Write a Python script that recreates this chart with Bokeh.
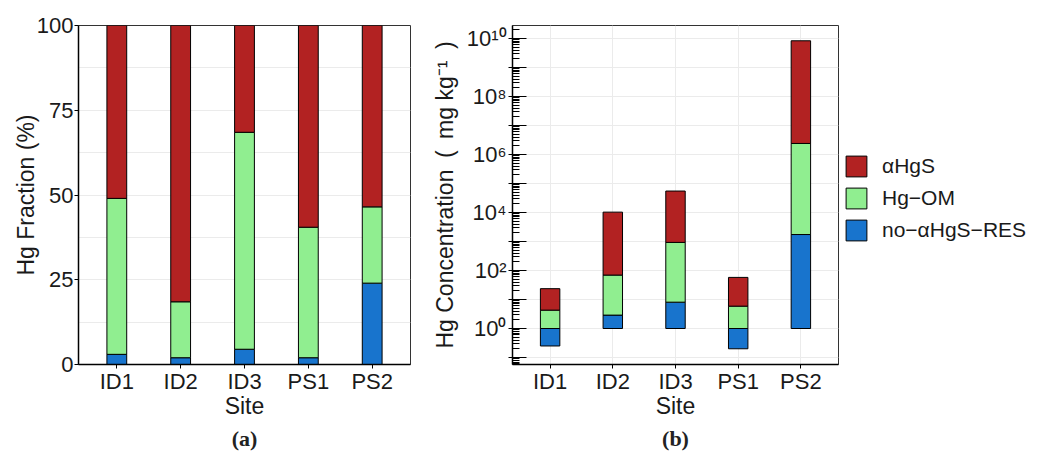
import math
from bokeh.plotting import figure
from bokeh.models import (ColumnDataSource, Range1d, FixedTicker, Legend, LegendItem,
                          Title, CustomJSTickFormatter)
from bokeh.layouts import row
from bokeh.embed import file_html
from bokeh.resources import INLINE

# ---------------- data ----------------
sites = ["ID1", "ID2", "ID3", "PS1", "PS2"]
series = ["no\u2212\u03b1HgS\u2212RES", "Hg\u2212OM", "\u03b1HgS"]

# panel (a): fraction (%)
frac_res = [3.0, 2.0, 4.5, 2.0, 24.0]
frac_om = [46.0, 16.5, 64.0, 38.5, 22.5]
frac_hgs = [51.0, 81.5, 31.5, 59.5, 53.5]

# panel (b): concentration (mg kg-1), stacked on a log axis
conc_res = [0.25, 2.9, 8.1, 0.20, 1740.0]
conc_om = [4.3, 24.0, 115.0, 5.9, 1380.0]
conc_hgs = [5.5, 148.0, 59.0, 9.8, 3470.0]

# ---------------- style ----------------
C_RES, C_OM, C_HGS = "#1874CD", "#90EE90", "#B22222"
colors = [C_RES, C_OM, C_HGS]
FONT = "Liberation Sans"
TXT = "#1a1a1a"
GRID = "#ebebeb"
BAR_W = 0.31
xs = [1, 2, 3, 4, 5]
x_over = {i + 1: s for i, s in enumerate(sites)}


def style(p):
    p.background_fill_color = "white"
    p.border_fill_color = "white"
    p.outline_line_color = "#333333"
    p.outline_line_width = 1
    for ax in (p.xaxis[0], p.yaxis[0]):
        ax.axis_line_color = "black"
        ax.axis_line_width = 1.5
        ax.major_tick_line_color = "black"
        ax.minor_tick_line_color = "black"
        ax.major_label_text_font = FONT
        ax.major_label_text_font_size = "22px"
        ax.major_label_text_color = TXT
        ax.axis_label_text_font = FONT
        ax.axis_label_text_font_size = "23px"
        ax.axis_label_text_font_style = "normal"
        ax.axis_label_text_color = TXT
    p.xaxis.ticker = FixedTicker(ticks=xs)
    p.xaxis.major_label_overrides = x_over
    p.xaxis.major_tick_out = 4
    p.xaxis.major_tick_in = 0
    p.xaxis.minor_tick_line_color = None
    p.xaxis.major_label_standoff = 0
    p.xaxis.axis_label = "Site"
    p.xaxis.axis_label_standoff = -4


# ---------------- panel (a) ----------------
p1 = figure(frame_width=332, frame_height=339,
            x_range=Range1d(0.4, 5.6), y_range=Range1d(0, 100),
            output_backend="svg", toolbar_location=None,
            min_border_left=78, min_border_top=25, min_border_right=10,
            min_border_bottom=10)
style(p1)

b = [0.0] * 5
for vals, col in zip([frac_res, frac_om, frac_hgs], colors):
    t = [bb + v for bb, v in zip(b, vals)]
    src = ColumnDataSource(dict(x=xs, bottom=b, top=t))
    p1.vbar(x="x", bottom="bottom", top="top", width=BAR_W, source=src,
            fill_color=col, line_color="black", line_width=1)
    b = t

yt1 = FixedTicker(ticks=[0, 25, 50, 75, 100], minor_ticks=[12.5, 37.5, 62.5, 87.5])
p1.yaxis.ticker = yt1
p1.ygrid.ticker = yt1
p1.ygrid.grid_line_color = GRID
p1.ygrid.minor_grid_line_color = GRID
p1.xgrid.grid_line_color = None
p1.yaxis.major_tick_out = 4
p1.yaxis.major_tick_in = 0
p1.yaxis.minor_tick_line_color = None
p1.yaxis.major_label_standoff = 1
p1.yaxis.axis_label = "Hg Fraction (%)"
p1.yaxis.axis_label_standoff = -5
p1.add_layout(Title(text="(a)", align="center", text_font="Liberation Serif",
                    text_font_style="bold", text_font_size="22px",
                    text_color="#222222", standoff=5), "below")

# ---------------- panel (b) ----------------
p2 = figure(frame_width=326, frame_height=339,
            x_range=Range1d(0.4, 5.6), y_range=Range1d(10 ** -1.241, 10 ** 10.448),
            y_axis_type="log",
            output_backend="svg", toolbar_location=None,
            min_border_left=92, min_border_top=25, min_border_right=10,
            min_border_bottom=10)
style(p2)

pos = [0.0] * 5
neg = [0.0] * 5
renderers = []
for vals, col in zip([conc_res, conc_om, conc_hgs], colors):
    bot, top = [], []
    for i, v in enumerate(vals):
        l = math.log10(v)
        if l >= 0:
            bot.append(10 ** pos[i]); top.append(10 ** (pos[i] + l)); pos[i] += l
        else:
            top.append(10 ** neg[i]); bot.append(10 ** (neg[i] + l)); neg[i] += l
    src = ColumnDataSource(dict(x=xs, bottom=bot, top=top))
    r = p2.vbar(x="x", bottom="bottom", top="top", width=BAR_W, source=src,
                fill_color=col, line_color="black", line_width=1)
    renderers.append(r)

yt2 = FixedTicker(ticks=[10.0 ** k for k in range(-1, 11)],
                  minor_ticks=[m * 10.0 ** k for k in range(-2, 11) for m in range(2, 10)])
p2.yaxis.ticker = yt2
p2.ygrid.ticker = yt2
p2.xgrid.ticker = FixedTicker(ticks=xs)
p2.ygrid.grid_line_color = GRID
p2.xgrid.grid_line_color = GRID
p2.yaxis.formatter = CustomJSTickFormatter(code="""
const e = Math.round(Math.log10(tick));
if (e % 2 !== 0) { return ""; }
const sup = {"0":"\u2070","1":"\u00b9","2":"\u00b2","3":"\u00b3","4":"\u2074","5":"\u2075","6":"\u2076","7":"\u2077","8":"\u2078","9":"\u2079","-":"\u207b"};
return "10" + String(e).split("").map(c => sup[c]).join("");
""")
p2.yaxis.major_tick_out = 4
p2.yaxis.major_tick_in = 14
p2.yaxis.minor_tick_in = 7
p2.yaxis.minor_tick_out = 0
p2.yaxis.major_label_standoff = 2
p2.yaxis.axis_label = "Hg Concentration\u2002(\u2002mg kg\u207b\u00b9\u2002)"
p2.yaxis.axis_label_standoff = 6
p2.add_layout(Title(text="(b)", align="center", text_font="Liberation Serif",
                    text_font_style="bold", text_font_size="22px",
                    text_color="#222222", standoff=5), "below")

legend = Legend(items=[LegendItem(label=series[2], renderers=[renderers[2]]),
                       LegendItem(label=series[1], renderers=[renderers[1]]),
                       LegendItem(label=series[0], renderers=[renderers[0]])],
                location=(5, 121), glyph_width=26, glyph_height=26,
                label_text_font=FONT, label_text_font_size="21px",
                label_text_color=TXT, label_standoff=13, spacing=6,
                padding=0, margin=0, border_line_color=None,
                background_fill_alpha=0)
p2.add_layout(legend, "right")

layout = row(p1, p2, spacing=0)
open("out.html", "w").write(file_html(layout, INLINE))
